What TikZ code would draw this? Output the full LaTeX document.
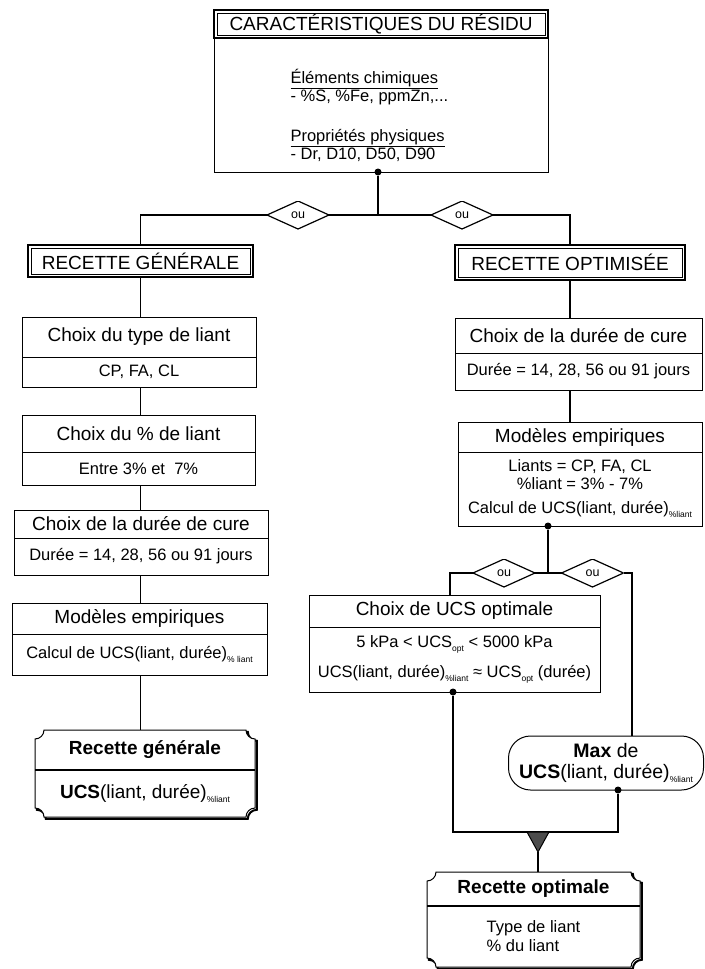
\documentclass[tikz,border=0pt]{standalone}
\usepackage{fontspec}
\setmainfont{Liberation Sans}
\usetikzlibrary{positioning, backgrounds}

\newcommand\lowtxt[1]{\raisebox{-0.45ex}{\fontsize{8.5}{9}\selectfont #1}}
% scroll-like frame around a title node (#1) and a body node (#2)
\newcommand\scrollframe[2]{%
  \draw[scrollshadow] ([xshift=9]#1.north west) -- ([xshift=-9]#1.north east)
    arc[start angle=180,end angle=270,radius=9] -- ([yshift=9]#2.south east)
    arc[start angle=90,end angle=180,radius=9] -- ([xshift=9]#2.south west)
    arc[start angle=0,end angle=90,radius=9] -- ([yshift=-9]#1.north west)
    arc[start angle=270,end angle=360,radius=9] -- cycle;
  \draw[scrollline] ([xshift=9]#1.north west) -- ([xshift=-9]#1.north east)
    arc[start angle=180,end angle=270,radius=9] -- ([yshift=9]#2.south east)
    arc[start angle=90,end angle=180,radius=9] -- ([xshift=9]#2.south west)
    arc[start angle=0,end angle=90,radius=9] -- ([yshift=-9]#1.north west)
    arc[start angle=270,end angle=360,radius=9] -- cycle;
  \draw[link] (#1.south west) -- (#1.south east);}

\tikzset{
  headbox/.style={draw, line width=2pt, inner sep=0pt, outer sep=0pt, font=\fontsize{19}{22}\selectfont},
  headinner/.style={line width=0.6pt},
  cellhead/.style={draw, line width=1pt, inner sep=0pt, outer sep=0pt, font=\fontsize{19}{22}\selectfont},
  cell/.style={draw, line width=1pt, inner sep=0pt, outer sep=0pt, align=center, font=\fontsize{16.5}{17.5}\selectfont},
  scrollhead/.style={inner sep=0pt, outer sep=0pt, font=\fontsize{19}{22}\selectfont\bfseries},
  scrollbody/.style={inner sep=0pt, outer sep=0pt, font=\fontsize{19}{22}\selectfont},
  scrollline/.style={line width=1pt, fill=white},
  scrollshadow/.style={line width=2pt, transform canvas={shift={(1.8,-1.8)}}},
  maxbox/.style={draw, line width=1pt, rounded corners=22, inner sep=0pt, align=center, font=\fontsize{19.5}{21}\selectfont},
  ornode/.style={inner sep=0pt, outer sep=0pt, minimum width=62, minimum height=28, font=\fontsize{12.5}{14}\selectfont,
    path picture={\draw[line width=1.2pt] (path picture bounding box.west) -- (path picture bounding box.north)
      -- (path picture bounding box.east) -- (path picture bounding box.south) -- cycle;}},
  joint/.style={circle, fill, inner sep=0pt, minimum size=7},
  link/.style={line width=1.1pt},
  mergetip/.style={fill=black!70, draw, line width=1pt}
}

\begin{document}
\begin{tikzpicture}[x=1pt,y=1pt]
  \useasboundingbox (0,0) rectangle (704,-969);
  % residue
  \node[headbox, minimum width=334, minimum height=28] (rest) at (381,-24) {CARACTÉRISTIQUES DU RÉSIDU};
  \node[cell, below=0pt of rest, minimum width=334, minimum height=134] (resb) {};
  \node[anchor=west, align=left, font=\fontsize{16.5}{18}\selectfont] (restxt) at (287,-115)
    {\underline{Éléments chimiques}\\- \%S, \%Fe, ppmZn,...\\[22pt]\underline{Propriétés physiques}\\- Dr, D10, D50, D90};
  \node[joint] (d0) at (378,-172) {};
  \coordinate (j0) at (378,-215);
  \node[ornode] (ou1) at (298,-215) {ou};
  \node[ornode] (ou2) at (462,-215) {ou};
  \node[headbox, minimum width=225, minimum height=32] (gen) at (140.5,-261) {RECETTE GÉNÉRALE};
  \node[headbox, minimum width=230, minimum height=35] (opt) at (570,-262.5) {RECETTE OPTIMISÉE};
  \foreach \n in {rest, gen, opt}
    \draw[headinner] ([shift={(3,-3)}]\n.north west) rectangle ([shift={(-3,3)}]\n.south east);

  % general recipe
  \node[cellhead, minimum width=234, minimum height=40] (ct1) at (139,-337) {Choix du type de liant};
  \node[cell, below=0pt of ct1, minimum width=234, minimum height=30] (cb1) {CP, FA, CL};
  \node[cellhead, minimum width=233, minimum height=37] (ct2) at (138.5,-433.5) {Choix du \% de liant};
  \node[cell, below=0pt of ct2, minimum width=233, minimum height=33] (cb2) {Entre 3\% et~~7\%};
  \node[cellhead, minimum width=254, minimum height=28] (ct3) at (141,-524) {Choix de la durée de cure};
  \node[cell, below=0pt of ct3, minimum width=254, minimum height=37] (cb3) {Durée = 14, 28, 56 ou 91 jours};
  \node[cellhead, minimum width=255, minimum height=31] (ct4) at (139.5,-618.5) {Modèles empiriques};
  \node[cell, below=0pt of ct4, minimum width=255, minimum height=41] (cb4) {Calcul de UCS(liant, durée)\lowtxt{\% liant}};
  \node[scrollhead, minimum width=220, minimum height=40] (rgt) at (145,-750) {Recette générale};
  \node[scrollbody, below=0pt of rgt, minimum width=220, minimum height=47] (rgb) {\textbf{UCS}(liant, durée)\lowtxt{\%liant}};

  % optimised recipe
  \node[cellhead, minimum width=247, minimum height=35] (dt) at (578.5,-335.5) {Choix de la durée de cure};
  \node[cell, below=0pt of dt, minimum width=247, minimum height=37] (db) {Durée = 14, 28, 56 ou 91 jours};
  \node[cellhead, minimum width=244, minimum height=30] (mt) at (580,-437) {Modèles empiriques};
  \node[cell, below=0pt of mt, minimum width=244, minimum height=74] (mb)
    {Liants = CP, FA, CL\\\%liant = 3\% - 7\%\\[7pt]Calcul de UCS(liant, durée)\lowtxt{\%liant}};
  \node[joint] (d1) at (548,-526) {};
  \coordinate (j1) at (548,-573);
  \node[ornode] (ou3) at (504,-573) {ou};
  \node[ornode] (ou4) at (592.5,-573) {ou};
  \node[cellhead, minimum width=291, minimum height=32] (ut) at (454.5,-611) {Choix de UCS optimale};
  \node[cell, below=0pt of ut, minimum width=291, minimum height=65] (ub)
    {5 kPa < UCS\lowtxt{opt} < 5000 kPa\\[11pt]UCS(liant, durée)\lowtxt{\%liant} ≈ UCS\lowtxt{opt} (durée)};
  \coordinate (uin) at (450,-595);
  \node[maxbox, minimum width=195, minimum height=54] (mx) at (606,-763) {\textbf{Max} de\\\textbf{UCS}(liant, durée)\lowtxt{\%liant}};
  \coordinate (mxin) at (632,-736);
  \node[joint] (d2) at (453,-692) {};
  \node[joint] (d3) at (618,-790) {};
  \coordinate (m1) at (453,-832);
  \coordinate (m2) at (618,-832);
  \coordinate (mg) at (538,-832);
  \coordinate (mgtip) at (538,-852);
  \node[scrollhead, minimum width=213, minimum height=34] (rot) at (533.5,-889) {Recette optimale};
  \node[scrollbody, below=0pt of rot, minimum width=213, minimum height=61, align=left, font=\fontsize{16.5}{19}\selectfont] (rob) {Type de liant\\\% du liant};

  % frames
  \begin{scope}[on background layer]
    \scrollframe{rgt}{rgb}
    \scrollframe{rot}{rob}
  \end{scope}

  % connectors
  \draw[link] (d0) -- (j0) -- (ou1);
  \draw[link] (ou1.west) -| (gen.north);
  \draw[link] (j0) -- (ou2);
  \draw[link] (ou2.east) -| (opt.north);
  \foreach \a/\b in {gen/ct1, cb1/ct2, cb2/ct3, cb3/ct4, cb4/rgt}
    \draw[link] (gen.south |- \a.south) -- (gen.south |- \b.north);
  \draw[link] (opt.south) -- (opt.south |- dt.north);
  \draw[link] (opt.south |- db.south) -- (opt.south |- mt.north);
  \draw[link] (d1) -- (j1) -- (ou3);
  \draw[link] (ou3.west) -| (uin);
  \draw[link] (j1) -- (ou4);
  \draw[link] (ou4.east) -| (mxin);
  \draw[link] (d2) -- (m1) -- (m2) -- (d3);
  \filldraw[mergetip] ([xshift=-11]mg) -- ([xshift=11]mg) -- (mgtip) -- cycle;
  \draw[link] (mgtip) -- (mgtip |- rot.north);
\end{tikzpicture}
\end{document}
